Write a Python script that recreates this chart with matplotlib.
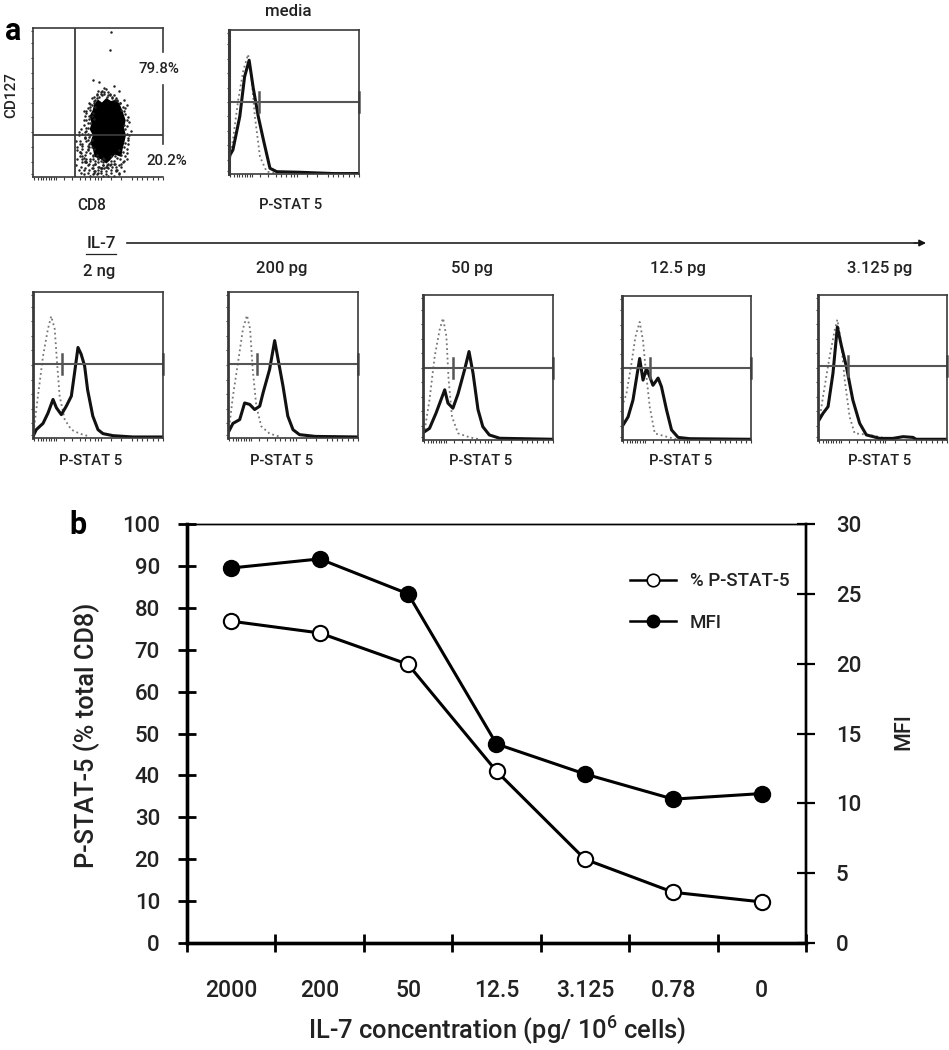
import matplotlib
matplotlib.use("Agg")
import matplotlib.pyplot as plt
from matplotlib.lines import Line2D

W, H = 949, 1050
plt.rcParams["font.family"] = ["Roboto", "DejaVu Sans"]
plt.rcParams["font.weight"] = "medium"
plt.rcParams["mathtext.default"] = "regular"

# panel b
conc_labels = ["2000", "200", "50", "12.5", "3.125", "0.78", "0"]
pct_pstat = [76.8, 74.0, 66.5, 41.0, 20.0, 12.1, 9.8]
mfi = [26.85, 27.5, 25.0, 14.25, 12.1, 10.3, 10.7]

# CD8 / CD127 dot plot
dots_x = [60, 59, 46, 51, 55, 62, 66, 58, 49, 70, 72, 44, 41, 39, 37, 35, 33, 34, 36, 38,
          40, 42, 44, 46, 33, 35, 37, 39, 41, 43, 45, 47, 34, 36, 38, 40, 42, 44, 46, 48,
          50, 52, 54, 36, 38, 40, 42, 44, 46, 48, 50, 52, 54, 56, 58, 60, 62, 64, 66, 68,
          35, 38, 41, 44, 47, 50, 53, 56, 59, 62, 65, 68, 70, 34, 37, 40, 43, 46, 49, 52,
          55, 58, 61, 64, 67, 70, 72, 73, 74, 72, 73, 71, 74, 73, 72, 75, 41, 42, 43, 40,
          39, 41, 42, 40, 38, 43, 42, 41, 39, 37, 45, 47, 49, 52, 55, 58, 61, 64, 67, 53,
          56, 59, 62, 65, 50, 47, 44, 48, 51, 54, 57, 60, 63, 66, 69, 45, 50, 55, 60, 65,
          42, 41, 43, 40, 42, 44, 41, 43, 39, 42, 40, 38, 44, 36, 41, 43, 38, 36, 40, 42,
          45, 47, 44, 46, 48, 45, 47, 49, 51, 53, 52, 55, 57, 59, 61, 63, 65, 67, 69, 68,
          70, 71, 72, 70, 71, 72, 73, 71, 69, 71, 72, 70, 46, 48, 50, 52, 54, 56, 58, 60,
          62, 64, 66, 44, 46, 48, 50, 52, 54, 57, 60, 63, 66, 68, 43, 45, 47, 49, 41, 39]
dots_y = [97, 85, 65, 64, 60, 61, 58, 57, 56, 52, 48, 47, 44, 38, 32, 28, 24, 18, 14, 10,
          6, 3, 1, 2, 8, 5, 3, 2, 12, 9, 6, 4, 20, 17, 14, 11, 8, 16, 12, 9,
          5, 3, 1, 24, 21, 26, 19, 23, 15, 11, 7, 4, 8, 2, 6, 3, 9, 5, 2, 7,
          30, 29, 31, 28, 3, 10, 6, 4, 8, 1, 5, 9, 4, 12, 7, 10, 5, 8, 2, 11,
          6, 9, 7, 4, 12, 11, 16, 22, 28, 34, 40, 46, 37, 25, 19, 31, 33, 36, 39, 41,
          35, 43, 46, 27, 22, 50, 25, 17, 13, 16, 53, 54, 55, 56, 57, 55, 54, 53, 50, 58,
          59, 56, 55, 52, 58, 50, 49, 47, 7, 10, 8, 11, 9, 8, 10, 20, 13, 12, 14, 13,
          21, 24, 27, 30, 33, 36, 38, 41, 44, 18, 15, 19, 12, 22, 10, 20, 12, 17, 26, 29,
          48, 51, 45, 43, 52, 41, 39, 53, 54, 55, 57, 56, 54, 55, 53, 52, 51, 50, 47, 45,
          44, 42, 38, 35, 32, 29, 26, 23, 17, 14, 12, 20, 6, 4, 3, 6, 8, 7, 1, 5,
          11, 7, 3, 11, 14, 9, 12, 6, 13, 7, 9, 14, 18, 15, 22, 25, 19, 15, 10, 5]
blob_x = [47, 50, 53, 56.4, 60, 64, 66.7, 69, 71.3, 70, 71.5, 70.5, 69, 67.9, 63, 59, 56.4, 52, 47.4, 46, 44, 46, 43.6, 45, 43.6, 46]
blob_y = [49, 52, 50, 53, 51, 52, 49, 44, 38, 33, 28, 24, 19, 13.5, 15, 11, 9, 12, 13.5, 19, 23, 28, 32, 36, 41, 45]

# histograms, channel 0-100 against counts 0-100
media_solid_x = [0, 3, 8.3, 12, 15.5, 18.6, 22.5, 26.4, 31.5, 36.7, 54.8, 80.6, 100]
media_solid_y = [12, 16.7, 40, 67.6, 79, 60, 40, 24, 4, 1.6, 1.2, 0.3, 0.3]
media_ctrl_x = [0, 3, 7, 11, 14.7, 17.3, 19.9, 23.8, 29, 36.7]
media_ctrl_y = [5, 23.6, 51, 72, 83, 67, 40, 12, 1.6, 0.5]

ng2_solid_x = [0, 2.5, 7.7, 11.5, 15.4, 18, 21.8, 25.6, 29.5, 32, 34.6, 37, 39.7, 42, 46, 50, 53.8, 61.5, 77, 100]
ng2_solid_y = [1, 5.7, 10, 17, 26.4, 20.7, 16, 21.8, 28.7, 44.8, 62, 57.5, 49.4, 33, 15, 5.7, 3, 1.6, 0.7, 0.7]
ng2_ctrl_x = [0, 3.8, 7.7, 11.5, 14, 16.7, 18.5, 20.5, 24.4, 29.5, 35.9, 43.6]
ng2_ctrl_y = [1, 28.7, 56, 74.7, 83.4, 74.7, 51.7, 28.7, 12.6, 5.7, 3, 1]

pg200_solid_x = [0, 3.8, 9, 12.8, 16.7, 20.5, 24.4, 27, 32, 35.9, 38.5, 42.3, 46, 50, 55, 67, 100]
pg200_solid_y = [3.4, 10, 12.6, 24, 23, 19.5, 21.8, 31, 47, 66.7, 54, 35.6, 15, 5.7, 2.3, 1.1, 0.7]
pg200_ctrl_x = [0, 3.8, 7.7, 11.5, 14.6, 17, 19, 21.8, 25.6, 32, 39.7]
pg200_ctrl_y = [1, 28.7, 51.7, 74.7, 84, 74.7, 47, 21.8, 8, 3, 1]

pg50_solid_x = [1.3, 5, 10, 16.7, 19.2, 23, 27, 32, 35.4, 38.5, 42.3, 46, 51, 59, 100]
pg50_solid_y = [5.8, 8, 18.5, 34.6, 25.4, 21.9, 32, 48.5, 61, 46, 21, 9.2, 3.5, 1.2, 0.5]
pg50_ctrl_x = [1.3, 5, 9, 12.8, 15.4, 18, 19.7, 22.3, 27, 36, 43.6]
pg50_ctrl_y = [7, 27.7, 57.7, 76, 84, 71.4, 41.6, 16, 4.6, 1.8, 0.5]

pg12_solid_x = [0, 4.7, 8.5, 11, 13.7, 16.3, 19, 21.5, 24, 28, 30.6, 34.5, 38.4, 43.5, 52.6, 100]
pg12_solid_y = [9.2, 16, 27.7, 41.6, 56.6, 41.6, 49.7, 44, 38, 43, 37, 21, 7, 1.8, 0.9, 0.5]
pg12_ctrl_x = [0, 3.4, 7.3, 10.4, 13.7, 16.3, 18.4, 21.5, 25.4, 34.5, 42]
pg12_ctrl_y = [23, 32, 53, 71.6, 82, 69, 48.5, 23, 4.6, 2.3, 0.5]

pg3_solid_x = [0, 3.9, 7.8, 11.6, 15, 18, 22, 27, 32.3, 37.5, 48, 58, 66, 73.6, 76, 100]
pg3_solid_y = [12.6, 18.4, 23, 46, 78, 65.5, 50.6, 27.6, 11.5, 3.5, 1.1, 1.1, 2.3, 1.8, 0.5, 0.5]
pg3_ctrl_x = [0, 3.9, 9, 13, 15, 18, 20.7, 24.5, 28.4, 40, 53]
pg3_ctrl_y = [7, 30, 57.5, 76, 83, 67, 41.4, 16, 4.6, 3.5, 1.1]

bottom_ticks = [1, 4, 6, 8, 10, 12, 14, 16, 18, 24, 30, 36, 40, 44, 48, 50, 52, 60, 68, 76, 80, 84, 88, 92, 96, 100]
left_ticks = [2, 10, 20, 30, 40, 50, 60, 70, 80, 90, 98]

dark = "#3a3a3a"


def make_axes(fig, x0, y0, x1, y1):
    return fig.add_axes([x0 / W, 1 - y1 / H, (x1 - x0) / W, (y1 - y0) / H])


def px_text(fig, x, y, s, size=10, **kw):
    kw.setdefault("color", "#222222")
    kw.setdefault("ha", "center")
    kw.setdefault("va", "center")
    fig.text(x / W, 1 - y / H, s, fontsize=size, **kw)


def flow_panel(fig, box, left_w=1.2):
    ax = make_axes(fig, *box)
    ax.set_xlim(0, 100)
    ax.set_ylim(0, 100)
    ax.set_xticks(bottom_ticks)
    ax.set_yticks(left_ticks)
    ax.tick_params(length=1.8, width=0.8, color=dark, labelleft=False, labelbottom=False)
    for side in ax.spines.values():
        side.set_color(dark)
        side.set_linewidth(1.2)
    ax.spines["left"].set_linewidth(left_w)
    ax.patch.set_alpha(0)
    return ax


def histogram(ax, solid, ctrl, gate_x, gate_y):
    ax.plot(ctrl[0], ctrl[1], ls=":", color="#777777", lw=1.3)
    ax.plot(solid[0], solid[1], color="#111111", lw=2.2)
    ax.plot([0, 100], [gate_y, gate_y], color="#555555", lw=1.5)
    for g in (gate_x, 100):
        ax.plot([g, g], [gate_y - 7, gate_y + 7], color="#555555", lw=1.8, clip_on=False)


def draw_chart():
    fig = plt.figure(figsize=(W / 100, H / 100), dpi=100, facecolor="white")

    # dot plot
    ax = flow_panel(fig, (33, 28, 163, 177))
    ax.spines["right"].set_visible(False)
    ax.fill(blob_x, blob_y, color="black", lw=0)
    ax.scatter(dots_x, dots_y, s=3.2, color="#222222", lw=0)
    ax.plot([32, 32], [0, 100], color=dark, lw=1.3)
    ax.plot([0, 100], [28.5, 28.5], color=dark, lw=1.3)
    ax.plot([100, 100], [84, 100], color=dark, lw=1.2, clip_on=False)
    ax.plot([100, 100], [22, 62], color=dark, lw=1.2, clip_on=False)
    px_text(fig, 159, 69, "79.8%", 10.8)
    px_text(fig, 167, 161, "20.2%", 10.8)
    px_text(fig, 11, 95, "CD127", 11, rotation=90)
    px_text(fig, 92, 205, "CD8", 11.2)
    px_text(fig, 13, 31, "a", 22, fontweight="bold", color="black")

    # media
    ax = flow_panel(fig, (229, 30, 359, 174), left_w=2.2)
    histogram(ax, (media_solid_x, media_solid_y), (media_ctrl_x, media_ctrl_y), 23, 50)
    px_text(fig, 288, 12, "media", 12.2)
    px_text(fig, 291, 205, "P-STAT 5", 10.6)

    # IL-7 arrow
    px_text(fig, 101, 244, "IL-7", 12.2)
    fig.add_artist(Line2D([86 / W, 116 / W], [1 - 254 / H, 1 - 254 / H], color="#222222", lw=0.9))
    fig.add_artist(Line2D([127 / W, 918 / W], [1 - 243 / H, 1 - 243 / H], color="#222222", lw=1.2))
    fig.axes[0].annotate("", xy=(926 / W, 1 - 243 / H), xytext=(914 / W, 1 - 243 / H),
                         xycoords="figure fraction", textcoords="figure fraction",
                         arrowprops=dict(arrowstyle="-|>", color="#111111", lw=1, mutation_scale=10,
                                         shrinkA=0, shrinkB=0))

    # dose row
    boxes = [(33, 292, 163, 438), (228, 292, 358, 438), (423, 295, 553, 440),
             (622, 296, 751, 440), (818, 295, 947, 440)]
    solids = [(ng2_solid_x, ng2_solid_y), (pg200_solid_x, pg200_solid_y), (pg50_solid_x, pg50_solid_y),
              (pg12_solid_x, pg12_solid_y), (pg3_solid_x, pg3_solid_y)]
    ctrls = [(ng2_ctrl_x, ng2_ctrl_y), (pg200_ctrl_x, pg200_ctrl_y), (pg50_ctrl_x, pg50_ctrl_y),
             (pg12_ctrl_x, pg12_ctrl_y), (pg3_ctrl_x, pg3_ctrl_y)]
    gates = [(22.3, 50.6), (22, 50.6), (23, 49.6), (21.5, 50), (23, 51)]
    doses = ["2 ng", "200 pg", "50 pg", "12.5 pg", "3.125 pg"]
    dose_x = [99, 282, 472, 678, 880]
    dose_y = [272, 269, 269, 269, 269]
    label_x = [91, 282, 481, 681, 880]
    for i in range(5):
        ax = flow_panel(fig, boxes[i], left_w=2.0)
        histogram(ax, solids[i], ctrls[i], gates[i][0], gates[i][1])
        px_text(fig, dose_x[i], dose_y[i], doses[i], 12)
        px_text(fig, label_x[i], 461, "P-STAT 5", 10.6)

    # panel b
    ax = make_axes(fig, 187, 524, 806, 943)
    ax2 = ax.twinx()
    pos = list(range(len(conc_labels)))
    ax.set_xlim(-0.5, 6.5)
    ax.set_ylim(0, 100)
    ax2.set_ylim(0, 30)
    ax.set_yticks(range(0, 101, 10))
    ax2.set_yticks(range(0, 31, 5))
    ax.set_xticks([p - 0.5 for p in pos[1:]] + [-0.5, 6.5])
    ax.set_xticklabels([])
    ax.tick_params(axis="both", direction="inout", length=13, width=2, labelsize=16, pad=13, labelcolor="#222222")
    ax2.tick_params(axis="y", direction="inout", length=13, width=1.6, labelsize=16, pad=15, labelcolor="#222222")
    for a in (ax, ax2):
        a.spines["top"].set_linewidth(1)
        a.spines["left"].set_linewidth(2.4)
        a.spines["bottom"].set_linewidth(2.4)
        a.spines["right"].set_linewidth(1.7)
    for p, lab in zip(pos, conc_labels):
        ax.annotate(lab, xy=(p, 0), xytext=(0, -34), textcoords="offset points", ha="center", va="center",
                    fontsize=16.5, color="#222222", annotation_clip=False)

    ax.plot(pos, pct_pstat, "-o", color="black", lw=2.2, ms=11, mfc="white", mew=1.5, clip_on=False)
    ax2.plot(pos, mfi, "-o", color="black", lw=2.2, ms=11.5, mfc="black", clip_on=False)

    h1 = Line2D([], [], color="black", lw=1.8, marker="o", ms=9, mfc="white", mew=1.2)
    h2 = Line2D([], [], color="black", lw=1.8, marker="o", ms=9, mfc="black")
    ax2.legend([h1, h2], ["% P-STAT-5", "MFI"], frameon=False, fontsize=13.5, labelcolor="#222222",
               loc="upper left", bbox_to_anchor=(0.715, 0.885), handlelength=2.5, handletextpad=0.7,
               labelspacing=1.25, borderpad=0, borderaxespad=0)

    px_text(fig, 87, 735, "P-STAT-5 (% total CD8)", 18.3, rotation=90)
    px_text(fig, 904, 732, "MFI", 15.5, rotation=90)
    px_text(fig, 497, 1030, "IL-7 concentration (pg/ 10$^{6}$ cells)", 18.4)
    px_text(fig, 78, 525, "b", 22, fontweight="bold", color="black")

    fig.savefig("out.png", dpi=100, facecolor="white")


if __name__ == "__main__":
    draw_chart()
